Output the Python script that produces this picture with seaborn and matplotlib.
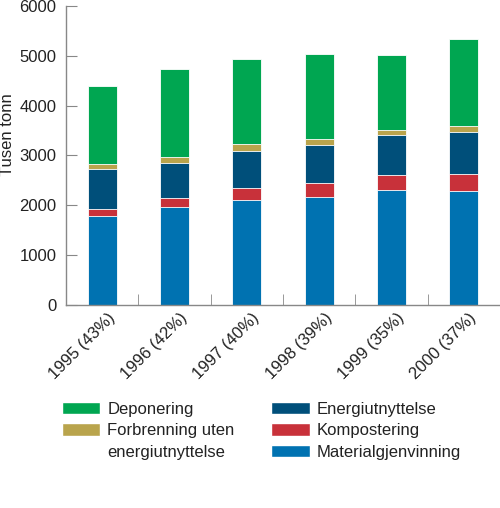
import matplotlib
matplotlib.use("Agg")
import matplotlib.pyplot as plt
import matplotlib.transforms as mtransforms
from matplotlib.patches import Patch
import numpy as np
import pandas as pd
import seaborn as sns

# Data (tusen tonn), bottom layer first
years = ["1995 (43%)", "1996 (42%)", "1997 (40%)", "1998 (39%)", "1999 (35%)", "2000 (37%)"]
materialgjenvinning = [1786, 1960, 2107, 2167, 2301, 2281]
kompostering = [134, 180, 248, 281, 314, 354]
energiutnyttelse = [802, 716, 742, 763, 796, 837]
forbrenning = [114, 121, 134, 120, 101, 120]
deponering = [1565, 1759, 1706, 1699, 1511, 1739]

layers = ["Materialgjenvinning", "Kompostering", "Energiutnyttelse",
          "Forbrenning uten energiutnyttelse", "Deponering"]
colors = ["#0072B1", "#C8313A", "#004F7A", "#B9A44C", "#00A651"]

df = pd.DataFrame({
    "Materialgjenvinning": materialgjenvinning,
    "Kompostering": kompostering,
    "Energiutnyttelse": energiutnyttelse,
    "Forbrenning uten energiutnyttelse": forbrenning,
    "Deponering": deponering,
}, index=years)
cum = df[layers].cumsum(axis=1)

sns.set_style("ticks")
plt.rcParams["font.family"] = ["Liberation Sans", "DejaVu Sans"]

fig = plt.figure(figsize=(5, 5.08), dpi=100)
ax = fig.add_axes([0.132, 0.3996, 0.868, 0.5886])

# stacked bars: draw cumulative totals from the top layer down
for layer, col in reversed(list(zip(layers, colors))):
    sns.barplot(x=years, y=cum[layer].values, color=col, width=0.405,
                edgecolor="white", linewidth=0.6, ax=ax, saturation=1)

ax.set_ylim(0, 6000)
ax.set_xlim(-0.5, 5.5)
ax.set_yticks(np.arange(0, 6001, 1000))
ax.set_ylabel("Tusen tonn", fontsize=12, color="#222222")
ax.yaxis.set_label_coords(-0.118, 0.57)
ax.set_xlabel("")

for s in ["top", "right"]:
    ax.spines[s].set_visible(False)
for s in ["left", "bottom"]:
    ax.spines[s].set_color("#888888")
    ax.spines[s].set_linewidth(1.0)

ax.tick_params(axis="y", direction="in", length=8, color="#888888",
               labelsize=12, labelcolor="#222222", pad=7)
ax.set_xticks(range(len(years)))
ax.set_xticklabels(years, rotation=45, ha="right", rotation_mode="anchor",
                   fontsize=12, color="#222222")
ax.tick_params(axis="x", which="major", length=0, pad=6)
ax.set_xticks(np.arange(0.5, 5.0, 1.0), minor=True)
ax.tick_params(axis="x", which="minor", direction="in", length=8, color="#888888")

# nudge rotated year labels a little right/up
offset = mtransforms.ScaledTranslation(5 / 100, 3 / 100, fig.dpi_scale_trans)
for lab in ax.get_xticklabels():
    lab.set_transform(lab.get_transform() + offset)

# legend: two columns, second line of the long label as a blank entry
handles = [Patch(facecolor=colors[4]), Patch(facecolor=colors[3]),
           Patch(facecolor="none", edgecolor="none"),
           Patch(facecolor=colors[2]), Patch(facecolor=colors[1]),
           Patch(facecolor=colors[0])]
labels = ["Deponering", "Forbrenning uten", "energiutnyttelse",
          "Energiutnyttelse", "Kompostering", "Materialgjenvinning"]
leg = fig.legend(handles, labels, ncol=2, loc="upper left",
                 bbox_to_anchor=(0.093, 0.239), frameon=False, fontsize=12,
                 handlelength=2.3, handleheight=0.8, handletextpad=0.45,
                 labelspacing=0.38, columnspacing=2.2)
for t in leg.get_texts():
    t.set_color("#222222")

fig.savefig("out.png", dpi=100)
